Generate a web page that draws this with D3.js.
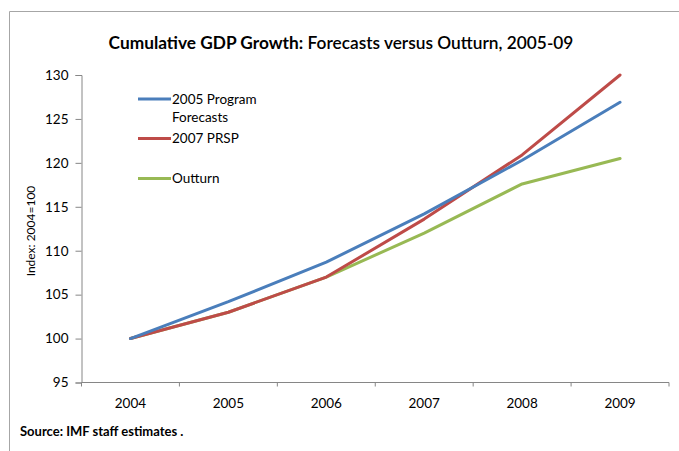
<!DOCTYPE html>
<html>
<head>
<meta charset="utf-8">
<script src="https://cdn.jsdelivr.net/npm/d3@7"></script>
<style>
  html, body { margin: 0; padding: 0; background: #fff; }
  svg { display: block; font-family: Lato, "Open Sans", sans-serif; }
</style>
</head>
<body>
<svg id="chart" width="679" height="451"></svg>
<script>
// Cumulative GDP index, 2004 = 100
const years = ["2004", "2005", "2006", "2007", "2008", "2009"];
const program2005 = [100, 104.2, 108.7, 114.2, 120.3, 126.9];
const prsp2007 = [100, 103.0, 107.0, 113.6, 120.9, 130.0];
const outturn = [100, 103.0, 107.0, 112.0, 117.6, 120.5];
const yTicks = [95, 100, 105, 110, 115, 120, 125, 130];

const series = [
  { name: ["2005 Program", "Forecasts"], values: program2005, color: "#4a7ebb" },
  { name: ["2007 PRSP"], values: prsp2007, color: "#be4b48" },
  { name: ["Outturn"], values: outturn, color: "#98b954" }
];

const svg = d3.select("#chart");
const axisColor = "#868686";

// outer frame
svg.append("path")
  .attr("d", "M9.5,451 L9.5,11.5 L679,11.5")
  .attr("fill", "none")
  .attr("stroke", "#a6a6a6")
  .attr("stroke-width", 1);

const x = d3.scaleBand().domain(years).range([81.5, 669]).padding(0);
const y = d3.scaleLinear().domain([95, 130]).range([382.5, 75]);

// title
const title = svg.append("text")
  .attr("x", 341).attr("y", 49)
  .attr("text-anchor", "middle")
  .attr("font-size", 17.3)
  .attr("fill", "#000");
title.append("tspan").attr("font-weight", "bold").text("Cumulative GDP Growth:");
title.append("tspan").attr("font-weight", "600").text(" Forecasts versus Outturn, 2005-09");

// y axis
const yAxis = svg.append("g")
  .attr("transform", "translate(81.5,0)")
  .call(d3.axisLeft(y).tickValues(yTicks).tickSize(6).tickPadding(7).tickFormat(d3.format("d")));
yAxis.select(".domain").attr("stroke", axisColor);
yAxis.selectAll(".tick line").attr("stroke", axisColor);
yAxis.selectAll(".tick text")
  .attr("font-family", "Lato, sans-serif")
  .attr("font-size", 13.5)
  .attr("fill", "#000");

// x axis: ticks at category boundaries, labels centred in each band
const xAxisG = svg.append("g").attr("transform", "translate(0,382.5)");
xAxisG.append("line")
  .attr("x1", x.range()[0]).attr("x2", x.range()[1])
  .attr("stroke", axisColor);
const boundaries = years.map(d => x(d)).concat([x(years[years.length - 1]) + x.bandwidth()]);
xAxisG.selectAll("line.tk").data(boundaries).enter().append("line")
  .attr("class", "tk")
  .attr("x1", d => d).attr("x2", d => d)
  .attr("y1", 0).attr("y2", 4)
  .attr("stroke", axisColor);
xAxisG.selectAll("text").data(years).enter().append("text")
  .attr("x", d => x(d) + x.bandwidth() / 2)
  .attr("y", 25)
  .attr("text-anchor", "middle")
  .attr("font-size", 13.5)
  .attr("fill", "#000");
xAxisG.selectAll("text").text(d => d);

// y axis title
svg.append("text")
  .attr("transform", "translate(35,231) rotate(-90)")
  .attr("text-anchor", "middle")
  .attr("font-size", 12)
  .attr("fill", "#000")
  .text("Index: 2004=100");

// lines
const line = d3.line()
  .x((d, i) => x(years[i]) + x.bandwidth() / 2)
  .y(d => y(d));

svg.append("g").selectAll("path")
  .data(series.slice().reverse())
  .enter().append("path")
  .attr("d", d => line(d.values))
  .attr("fill", "none")
  .attr("stroke", d => d.color)
  .attr("stroke-width", 3)
  .attr("stroke-linejoin", "round")
  .attr("stroke-linecap", "round");

// legend
const legendY = [99, 138.5, 178.5];
const legend = svg.append("g");
series.forEach((s, i) => {
  legend.append("line")
    .attr("x1", 138).attr("x2", 171)
    .attr("y1", legendY[i]).attr("y2", legendY[i])
    .attr("stroke", s.color)
    .attr("stroke-width", 3);
  const t = legend.append("text")
    .attr("x", 172).attr("y", legendY[i] + 4.5)
    .attr("font-size", 13.5)
    .attr("fill", "#000");
  s.name.forEach((n, k) => {
    t.append("tspan").attr("x", 172).attr("dy", k === 0 ? 0 : 18).text(n);
  });
});

// source note
svg.append("text")
  .attr("x", 20).attr("y", 436)
  .attr("font-size", 13)
  .attr("font-weight", "bold")
  .attr("fill", "#000")
  .text("Source: IMF staff estimates .");
</script>
</body>
</html>
